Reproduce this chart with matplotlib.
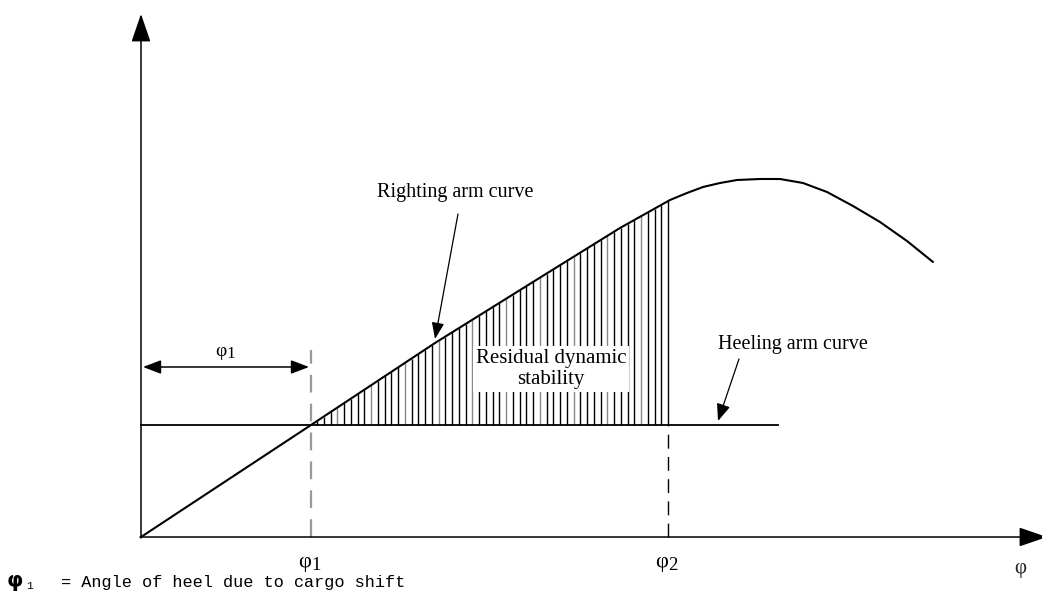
import numpy as np
import matplotlib
matplotlib.use("Agg")
import matplotlib.pyplot as plt

# ---- data (angle units / arm units, origin at the axes corner) ----
phi_curve = [0, 170, 294, 400, 479, 529, 546, 562, 579, 596, 619, 639, 662,
             686, 712, 739, 766, 792]
gz_curve = [0, 112, 194, 260, 309, 337, 344, 350, 354, 357, 358, 358, 354,
            345, 331, 315, 296, 275]
heeling_arm = 112
heeling_end = 637
phi1 = 170
phi2 = 527
x_axis_end = 906
y_axis_end = 523
tick_labels = ["φ", "φ"]
tick_subs = ["1", "2"]
axis_label = "φ"
label_righting = "Righting arm curve"
label_residual = "Residual dynamic\nstability"
label_heeling = "Heeling arm curve"
footnote = "= Angle of heel due to cargo shift"

fig = plt.figure(figsize=(10.42, 5.95), dpi=100)
ax = fig.add_axes([0, 0, 1, 1])
ax.set_xlim(-141, 901)
ax.set_ylim(-58, 537)
ax.axis("off")

serif = "Liberation Serif"
K = "black"

# hatching (residual dynamic stability)
hx = np.arange(phi1 + 6, phi2 + 1, 6.75)
hx = np.append(hx[hx < phi2 - 2], phi2)
htop = np.interp(hx, phi_curve, gz_curve)
cols = ["black" if (i % 5) != 3 else "#888888" for i in range(len(hx))]
ax.vlines(hx, heeling_arm, htop, colors=cols, linewidth=1.0, zorder=1)

# text with white background over the hatching
ax.text(410, 168, label_residual, ha="center", va="center", fontsize=15,
        family=serif, linespacing=1.2, zorder=2,
        bbox=dict(facecolor="white", edgecolor="none", pad=2))

# righting arm curve
ax.plot(phi_curve, gz_curve, color=K, lw=1.5, zorder=3,
        solid_capstyle="round", solid_joinstyle="round")
# heeling arm line
ax.plot([0, heeling_end], [heeling_arm, heeling_arm], color=K, lw=1.3, zorder=3)

# dashed verticals
ax.plot([phi1, phi1], [0, 187], color="#9a9a9a", lw=1.6, dashes=(8, 5), zorder=3)
ax.plot([phi2, phi2], [0, heeling_arm], color=K, lw=1.0, dashes=(10, 6), zorder=3)

# axes with arrows
ax.annotate("", xy=(0, y_axis_end), xytext=(0, -1), annotation_clip=False,
            arrowprops=dict(arrowstyle="-|>,head_length=1.75,head_width=0.6",
                            mutation_scale=10, lw=1.1, color=K,
                            shrinkA=0, shrinkB=0), zorder=4)
ax.annotate("", xy=(x_axis_end, 0), xytext=(-1, 0), annotation_clip=False,
            arrowprops=dict(arrowstyle="-|>,head_length=1.75,head_width=0.6",
                            mutation_scale=10, lw=1.1, color=K,
                            shrinkA=0, shrinkB=0), zorder=4)

# phi1 dimension arrow
ax.annotate("", xy=(phi1 - 2, 170), xytext=(2, 170),
            arrowprops=dict(arrowstyle="<|-|>,head_length=1.1,head_width=0.42",
                            mutation_scale=10, lw=1.1, color=K,
                            shrinkA=0, shrinkB=0), zorder=4)
ax.text(85, 186, "φ", ha="right", va="center", fontsize=14, family=serif)
ax.text(85, 183, "1", ha="left", va="center", fontsize=12.5, family=serif)

# pointer arrows
ax.annotate("", xy=(294, 198), xytext=(317, 323),
            arrowprops=dict(arrowstyle="-|>,head_length=1.0,head_width=0.38",
                            mutation_scale=10, lw=0.9, color=K,
                            shrinkA=0, shrinkB=0), zorder=4)
ax.annotate("", xy=(577, 116), xytext=(598, 178),
            arrowprops=dict(arrowstyle="-|>,head_length=1.05,head_width=0.42",
                            mutation_scale=10, lw=0.9, color=K,
                            shrinkA=0, shrinkB=0), zorder=4)

ax.text(314, 344, label_righting, ha="center", va="center", fontsize=14.5,
        family=serif)
ax.text(652, 192, label_heeling, ha="center", va="center", fontsize=14.5,
        family=serif)

# tick labels
for xv, lab, sub in zip([phi1, phi2], tick_labels, tick_subs):
    ax.text(xv, -25, lab, ha="right", va="center", fontsize=16, family=serif)
    ax.text(xv, -28, sub, ha="left", va="center", fontsize=13.5, family=serif)
ax.text(879, -31, axis_label, ha="center", va="center", fontsize=15,
        family=serif, color="#222222")

# footnote
ax.text(-134, -44, "φ", ha="left", va="center", fontsize=15,
        family="DejaVu Sans", fontweight="bold")
ax.text(-115, -49, "1", ha="left", va="center", fontsize=8,
        family="Liberation Mono")
ax.text(-80, -46, footnote, ha="left", va="center", fontsize=12.2,
        family="Liberation Mono")

fig.savefig("out.png", dpi=100)
